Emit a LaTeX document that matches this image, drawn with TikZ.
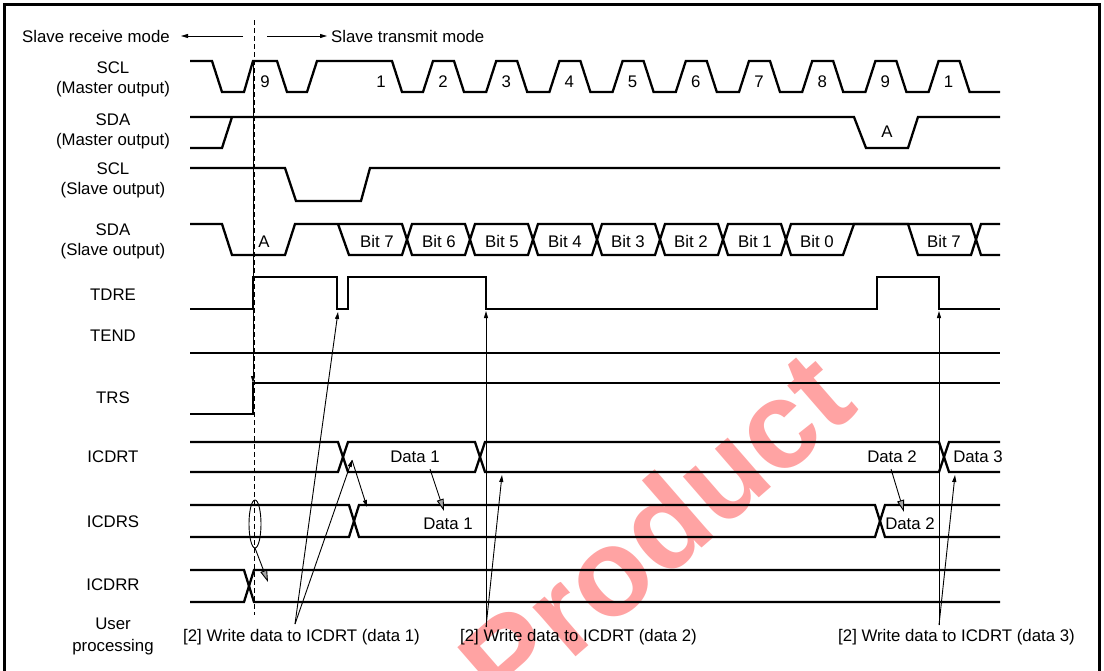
\documentclass[tikz,border=0pt]{standalone}
\usepackage{fontspec}
\setmainfont{Liberation Sans}
\usetikzlibrary{arrows.meta}
\begin{document}
\begin{tikzpicture}[x=1pt,y=-1pt,
  wave/.style={line width=2.3pt, line join=miter},
  thinl/.style={line width=0.9pt},
  blk/.style={thinl,-{Triangle[length=7pt,width=4pt]}},
  gry/.style={thinl,-{Triangle[length=12pt,width=7pt,fill=black!35]}},
  lab/.style={font=\fontsize{16.8}{20}\selectfont, inner sep=0pt},
  sig/.style={lab, align=center},
  wm/.style={font=\bfseries\fontsize{124}{124}\selectfont, text=red, text opacity=0.36, inner sep=0pt}
]
\useasboundingbox (0,0) rectangle (1104,670);
% watermark
\node[wm, rotate=41] (wmark) at (655,530) {Product};
% frame
\draw[line width=3pt] (4,672) -- (4,4) -- (1099.5,4) -- (1099.5,672);

% mode labels
\node[lab, anchor=west] (recv) at (22,36) {Slave receive mode};
\node[lab, anchor=west] (trans) at (331,36) {Slave transmit mode};
\coordinate (ra) at (243,36); \coordinate (rb) at (181,36);
\coordinate (ta) at (267,36); \coordinate (tb) at (327,36);
\draw[blk] (ra) -- (rb);
\draw[blk] (ta) -- (tb);

% signal labels
\node[sig] (lscl1) at (113,79) {SCL\\(Master output)};
\node[sig] (lsda1) at (113,131) {SDA\\(Master output)};
\node[sig] (lscl2) at (113,180) {SCL\\(Slave output)};
\node[sig] (lsda2) at (113,241.5) {SDA\\(Slave output)};
\node[lab] (ltdre) at (113,295) {TDRE};
\node[lab] (ltend) at (113,336) {TEND};
\node[lab] (ltrs) at (113,398) {TRS};
\node[lab] (licdrt) at (113,457) {ICDRT};
\node[lab] (licdrs) at (113,522) {ICDRS};
\node[lab] (licdrr) at (113,585) {ICDRR};
\node[lab, align=center, font=\fontsize{16.8}{22}\selectfont] (luser) at (113,636) {User\\processing};

% dashed vertical line
\draw[thinl, dash pattern=on 5pt off 3pt] (254.5,20) -- (254.5,615);

% SCL master
\draw[wave] (190,61) -- (212,61) -- (222,92) -- (244,92) -- (253,61) -- (277,61) -- (287,92) -- (307,92) -- (317,61) -- (392,61) -- (402,92) -- (423,92)
  \foreach \k in {0,...,8} { -- ++(10,-31) -- ++(21,0) -- ++(10,31) -- ++(22.2,0) } -- (1000,92);
\node[lab] (n9a) at (265,82) {9};
\node[lab] (n1a) at (381,82) {1};
\foreach \t [count=\i from 0] in {2,3,4,5,6,7,8,9,1}
  \node[lab] (n\i) at (423+\i*63.2+20,82) {\t};

% SDA master
\draw[wave] (190,117) -- (854,117) -- (866,148) -- (908,148) -- (918,117) -- (1000,117);
\draw[wave] (190,148) -- (222,148) -- (232,117);
\node[lab] (sdaA) at (887,132) {A};

% SCL slave
\draw[wave] (190,168) -- (285,168) -- (296,201) -- (361,201) -- (370,168) -- (1000,168);

% SDA slave
\draw[wave] (190,224) -- (222,224) -- (232,255) -- (285,255) -- (295,224) -- (402,224) -- (412,255) -- (465,255) -- (475,224) -- (528,224) -- (538,255) -- (592,255) -- (602,224) -- (655,224) -- (665,255) -- (718,255) -- (728,224) -- (781,224) -- (791,255) -- (843,255) -- (854,224) -- (971,224) -- (981,255) -- (1000,255);
\draw[wave] (338,224) -- (349,255) -- (402,255) -- (412,224) -- (465,224) -- (475,255) -- (528,255) -- (538,224) -- (592,224) -- (602,255) -- (655,255) -- (665,224) -- (718,224) -- (728,255) -- (781,255) -- (791,224) -- (908,224) -- (918,255) -- (971,255) -- (981,224) -- (1000,224);
\node[lab] (sA) at (264,242) {A};
\node[lab] (b7) at (377,241) {Bit 7};
\node[lab] (b6) at (439,241) {Bit 6};
\node[lab] (b5) at (502,241) {Bit 5};
\node[lab] (b4) at (565,241) {Bit 4};
\node[lab] (b3) at (628,241) {Bit 3};
\node[lab] (b2) at (691,241) {Bit 2};
\node[lab] (b1) at (755,241) {Bit 1};
\node[lab] (b0) at (817,241) {Bit 0};
\node[lab] (b7b) at (944,241) {Bit 7};

% TDRE
\draw[wave] (190,309) -- (253,309) -- (253,277) -- (337,277) -- (337,309) -- (348,309) -- (348,277) -- (486,277) -- (486,309) -- (877,309) -- (877,277) -- (939,277) -- (939,309) -- (1000,309);
% TEND
\draw[wave] (190,353) -- (1000,353);
% TRS
\draw[wave] (190,414) -- (253,414) -- (253,383) -- (1000,383);

% ICDRT
\draw[wave] (190,442) -- (338,442) -- (348,472) -- (475,472) -- (485,442) -- (939,442) -- (949,472) -- (1000,472);
\draw[wave] (190,472) -- (338,472) -- (348,442) -- (475,442) -- (485,472) -- (939,472) -- (949,442) -- (1000,442);
\node[lab] (dt1) at (415,457) {Data 1};
\node[lab] (dt2) at (892,457) {Data 2};
\node[lab] (dt3) at (978,457) {Data 3};

% ICDRS
\draw[wave] (190,505) -- (349,505) -- (359,537) -- (875,537) -- (885,505) -- (1000,505);
\draw[wave] (190,537) -- (349,537) -- (359,505) -- (875,505) -- (885,537) -- (1000,537);
\node[lab] (ds1) at (448,524) {Data 1};
\node[lab] (ds2) at (910,524) {Data 2};

% ICDRR
\draw[wave] (190,570) -- (244,570) -- (254,602) -- (1000,602);
\draw[wave] (190,602) -- (244,602) -- (254,570) -- (1000,570);

% bottom labels
\node[lab] (w1) at (301.5,637) {[2] Write data to ICDRT (data 1)};
\node[lab] (w2) at (578.5,637) {[2] Write data to ICDRT (data 2)};
\node[lab] (w3) at (956.5,637) {[2] Write data to ICDRT (data 3)};

% arrow coordinates
\coordinate (a1) at (295,624);
\coordinate (a2) at (486,627);
\coordinate (a3) at (939,625);
\coordinate (tdip) at (338,312);
\coordinate (tf2) at (486,311);
\coordinate (tf3) at (939,311);
\coordinate (ct1) at (352,460);
\coordinate (ct2) at (502,475);
\coordinate (ct3) at (955,475);
\coordinate (cs1) at (367,507);
\coordinate (sclr) at (253,61);
\coordinate (trsr) at (253,383);
\coordinate (g1a) at (430,469); \coordinate (g1b) at (444,511);
\coordinate (g2a) at (891,469); \coordinate (g2b) at (904,512);
\coordinate (g0a) at (255,548); \coordinate (g0b) at (268,582);

\draw[blk] (sclr) -- (trsr);
\draw[blk] (a1) -- (tdip);
\draw[blk] (a1) -- (ct1);
\draw[blk] (a2) -- (tf2);
\draw[blk] (a2) -- (ct2);
\draw[blk] (a3) -- (tf3);
\draw[blk] (a3) -- (ct3);
\draw[blk] (ct1) -- (cs1);
\draw[gry] (g1a) -- (g1b);
\draw[gry] (g2a) -- (g2b);
\draw[thinl] (255,524) ellipse [x radius=6pt, y radius=24pt];
\draw[gry] (g0a) -- (g0b);
\end{tikzpicture}
\end{document}
